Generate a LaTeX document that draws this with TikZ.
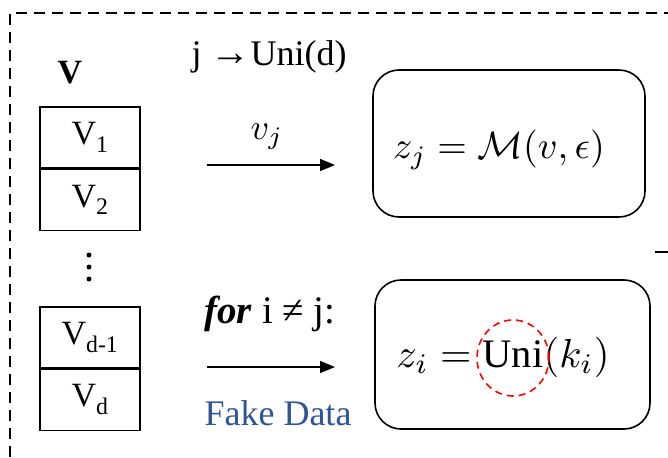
\documentclass[tikz,border=0pt]{standalone}
\usepackage{graphicx}
\usepackage{fontspec}
\setmainfont{Liberation Serif}
\usetikzlibrary{arrows.meta}
\newcommand{\bigmath}[2]{\scalebox{#1}{$#2$}}
\tikzset{
  cell/.style={draw,line width=1.6pt,minimum width=100pt,minimum height=61pt,inner sep=0pt,font=\fontsize{34}{38}\selectfont},
  rbox/.style={draw,line width=1.6pt,rounded corners=26pt,inner sep=0pt},
  arr/.style={line width=1.4pt,-{Triangle[length=15pt,width=12pt]}},
  txt/.style={font=\fontsize{36}{40}\selectfont,inner sep=0pt},
  mth/.style={font=\fontsize{10}{12}\selectfont,inner sep=0pt},
  frame/.style={line width=1.6pt,dash pattern=on 11pt off 7pt},
  dot/.style={fill,circle,inner sep=0pt,minimum size=5pt}
}
\begin{document}
\begin{tikzpicture}[x=1pt,y=-1pt]
\useasboundingbox (0,0) rectangle (668,457);
\draw[frame] (10,457) -- (10,13) -- (668,13);
\node[txt,font=\fontsize{34}{38}\selectfont\bfseries] (V) at (70,73) {V};
\node[cell,anchor=north] (v1) at (90,106) {V\textsubscript{1}};
\node[cell,anchor=north] (v2) at (v1.south) {V\textsubscript{2}};
\node[cell,anchor=north] (vd1) at (90,306) {V\textsubscript{d-1}};
\node[cell,anchor=north] (vd) at (vd1.south) {V\textsubscript{d}};
\node[dot] (d1) at (89,255) {};
\node[dot] (d2) at (89,267) {};
\node[dot] (d3) at (89,279) {};
\node[txt] (uni) at (269,57) {j {\fontsize{40}{40}\selectfont →}Uni(d)};
\coordinate (a1s) at (207,165);
\coordinate (a1e) at (335,165);
\draw[arr] (a1s) -- (a1e);
\node[mth] (vj) at (267,137) {\bigmath{3.6}{v_j}};
\coordinate (a2s) at (207,367);
\coordinate (a2e) at (335,367);
\draw[arr] (a2s) -- (a2e);
\node[txt,font=\fontsize{39}{42}\selectfont] (for) at (270,314) {\textbf{\itshape for} i ≠ j:};
\node[txt,text={rgb,255:red,47;green,85;blue,151}] (fake) at (278,413) {Fake Data};
\node[rbox,minimum width=272pt,minimum height=147pt] (top) at (509,143.5) {};
\node[mth] (mtop) at (499,150) {\bigmath{3.8}{z_j = \mathcal{M}(v,\epsilon)}};
\node[rbox,minimum width=275pt,minimum height=149pt] (bot) at (512.5,354.5) {};
\node[mth] (mbot) at (503,357) {\bigmath{4.05}{z_i = \mathrm{Uni}(k_i)}};
\draw[red,line width=1.6pt,dash pattern=on 7pt off 5pt] (513,358) ellipse (36pt and 38pt);
\coordinate (ds) at (655,252);
\coordinate (de) at (668,252);
\draw[line width=1.4pt] (ds) -- (de);
\end{tikzpicture}
\end{document}
